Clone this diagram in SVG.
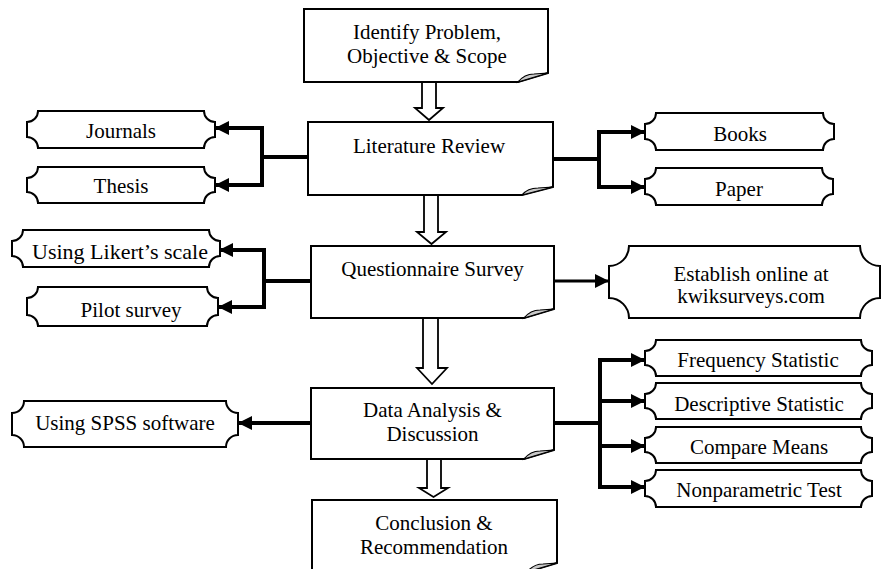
<svg xmlns="http://www.w3.org/2000/svg" width="881" height="569" viewBox="0 0 881 569">
<style>
.box{fill:#fff;stroke:#000;stroke-width:2}
.fold{fill:#c8c8c8;stroke:#000;stroke-width:1.2}
.plq{fill:#fff;stroke:#000;stroke-width:2}
.barrow{fill:#fff;stroke:#000;stroke-width:1.8}
.t{font-family:"Liberation Serif","Times New Roman",serif;font-size:21px;fill:#000;text-anchor:middle}
.con{fill:none;stroke:#000;stroke-width:4}
.thin{fill:none;stroke:#000;stroke-width:3}
</style>
<defs>
<marker id="ah" markerUnits="userSpaceOnUse" markerWidth="16" markerHeight="16" viewBox="0 0 16 16" refX="15" refY="8" orient="auto">
<path d="M1,1 L15,8 L1,15 Z" fill="#000"/>
</marker>
</defs>
<rect width="881" height="569" fill="#fff"/>

<g id="connectors">
<path class="barrow" d="M422,82 V108 H415 L429,120 L443,108 H436 V82 Z"/>
<path class="barrow" d="M424,195 V232 H417 L431.5,244 L446,232 H438 V195 Z"/>
<path class="barrow" d="M423,318 V368 H417 L432,384 L447,368 H438 V318 Z"/>
<path class="barrow" d="M427,459 V488 H419 L433.5,497 L448,488 H441 V459 Z"/>

<path class="con" d="M308,157 H262"/>
<path class="con" d="M262,126 V187"/>
<path class="con" d="M262,128 H215" marker-end="url(#ah)"/>
<path class="con" d="M262,185 H215" marker-end="url(#ah)"/>

<path class="con" d="M553,159 H599"/>
<path class="con" d="M599,130 V189"/>
<path class="con" d="M599,132 H645" marker-end="url(#ah)"/>
<path class="con" d="M599,187 H645" marker-end="url(#ah)"/>

<path class="con" d="M311,281 H264"/>
<path class="con" d="M264,248 V309"/>
<path class="con" d="M264,250 H219" marker-end="url(#ah)"/>
<path class="con" d="M264,307 H218" marker-end="url(#ah)"/>

<path class="thin" d="M554,281 H609" marker-end="url(#ah)"/>

<path class="con" d="M311,423 H238" marker-end="url(#ah)"/>

<path class="con" d="M554,423 H600"/>
<path class="con" d="M600,358 V489"/>
<path class="con" d="M600,360 H645" marker-end="url(#ah)"/>
<path class="con" d="M600,401 H645" marker-end="url(#ah)"/>
<path class="con" d="M600,446 H645" marker-end="url(#ah)"/>
<path class="con" d="M600,487 H645" marker-end="url(#ah)"/>
</g>

<g id="identify">
<path class="box" d="M304,9 H548 V73 L518,82 H304 Z"/>
<path class="fold" d="M518,82 C522,77 527,74 534,74 L548,73 Z"/>
<text class="t" x="427" y="39">Identify Problem,</text>
<text class="t" x="427" y="63">Objective &amp; Scope</text>
</g>

<g id="literature">
<path class="box" d="M308,122 H553 V187 L522,195 H308 Z"/>
<path class="fold" d="M522,195 C526,190 531,188 538,188 L553,187 Z"/>
<text class="t" x="429" y="153">Literature Review</text>
</g>

<g id="questionnaire">
<path class="box" d="M311,246 H554 V309 L524,318 H311 Z"/>
<path class="fold" d="M524,318 C528,313 533,310 540,310 L554,309 Z"/>
<text class="t" x="432.5" y="276">Questionnaire Survey</text>
</g>

<g id="data">
<path class="box" d="M311,388 H554 V450 L524,459 H311 Z"/>
<path class="fold" d="M524,459 C528,454 533,451 540,451 L554,450 Z"/>
<text class="t" x="432.5" y="417">Data Analysis &amp;</text>
<text class="t" x="432.5" y="441">Discussion</text>
</g>

<g id="conclusion">
<path class="box" d="M312,500 H557 V563 L527,572 H312 Z"/>
<path class="fold" d="M527,572 C531,567 536,564 543,564 L557,563 Z"/>
<text class="t" x="434" y="530">Conclusion &amp;</text>
<text class="t" x="434" y="554">Recommendation</text>
</g>

<g id="journals">
<path class="plq" d="M38,111 H204 A11,11 0 0 0 215,122 V137 A11,11 0 0 0 204,148 H38 A11,11 0 0 0 27,137 V122 A11,11 0 0 0 38,111 Z"/>
<text class="t" x="121" y="138">Journals</text>
</g>

<g id="thesis">
<path class="plq" d="M38,167 H204 A11,11 0 0 0 215,178 V192 A11,11 0 0 0 204,203 H38 A11,11 0 0 0 27,192 V178 A11,11 0 0 0 38,167 Z"/>
<text class="t" x="121" y="193">Thesis</text>
</g>

<g id="books">
<path class="plq" d="M656,113 H823 A11,11 0 0 0 834,124 V139 A11,11 0 0 0 823,150 H656 A11,11 0 0 0 645,139 V124 A11,11 0 0 0 656,113 Z"/>
<text class="t" x="740" y="141">Books</text>
</g>

<g id="paper">
<path class="plq" d="M656,168 H822 A11,11 0 0 0 833,179 V194 A11,11 0 0 0 822,205 H656 A11,11 0 0 0 645,194 V179 A11,11 0 0 0 656,168 Z"/>
<text class="t" x="739" y="196">Paper</text>
</g>

<g id="likert">
<path class="plq" d="M23,230 H209 A11,11 0 0 0 220,241 V256 A11,11 0 0 0 209,267 H23 A11,11 0 0 0 12,256 V241 A11,11 0 0 0 23,230 Z"/>
<text class="t" x="120" y="259" style="font-size:22px">Using Likert’s scale</text>
</g>

<g id="pilot">
<path class="plq" d="M38,287 H207 A11,11 0 0 0 218,298 V315 A11,11 0 0 0 207,326 H38 A11,11 0 0 0 27,315 V298 A11,11 0 0 0 38,287 Z"/>
<text class="t" x="131" y="317">Pilot survey</text>
</g>

<g id="establish">
<path class="plq" d="M629,246 H860 A20,20 0 0 0 880,266 V298 A20,20 0 0 0 860,318 H629 A20,20 0 0 0 609,298 V266 A20,20 0 0 0 629,246 Z"/>
<text class="t" x="751" y="281">Establish online at</text>
<text class="t" x="751" y="303">kwiksurveys.com</text>
</g>

<g id="spss">
<path class="plq" d="M24,401 H226 A12,12 0 0 0 238,413 V435 A12,12 0 0 0 226,447 H24 A12,12 0 0 0 12,435 V413 A12,12 0 0 0 24,401 Z"/>
<text class="t" x="125" y="430">Using SPSS software</text>
</g>

<g id="frequency">
<path class="plq" d="M656,340 H861 A11,11 0 0 0 872,351 V365 A11,11 0 0 0 861,376 H656 A11,11 0 0 0 645,365 V351 A11,11 0 0 0 656,340 Z"/>
<text class="t" x="758" y="367">Frequency Statistic</text>
</g>

<g id="descriptive">
<path class="plq" d="M656,383 H861 A11,11 0 0 0 872,394 V408 A11,11 0 0 0 861,419 H656 A11,11 0 0 0 645,408 V394 A11,11 0 0 0 656,383 Z"/>
<text class="t" x="759" y="411">Descriptive Statistic</text>
</g>

<g id="compare">
<path class="plq" d="M656,427 H861 A11,11 0 0 0 872,438 V452 A11,11 0 0 0 861,463 H656 A11,11 0 0 0 645,452 V438 A11,11 0 0 0 656,427 Z"/>
<text class="t" x="759" y="454">Compare Means</text>
</g>

<g id="nonparametric">
<path class="plq" d="M656,470 H861 A11,11 0 0 0 872,481 V496 A11,11 0 0 0 861,507 H656 A11,11 0 0 0 645,496 V481 A11,11 0 0 0 656,470 Z"/>
<text class="t" x="759" y="497">Nonparametric Test</text>
</g>
</svg>
